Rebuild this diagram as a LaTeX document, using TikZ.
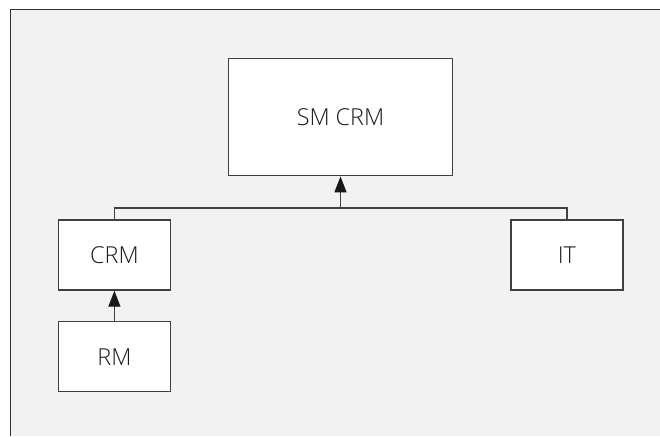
\documentclass[tikz,border=0pt]{standalone}
\usepackage{fontspec}
\setmainfont{Open Sans}[UprightFont=* Light]
\usetikzlibrary{arrows.meta}
\begin{document}
\begin{tikzpicture}[x=0.75pt,y=-0.75pt,
  box/.style={draw=black!75,line width=1.1pt,fill=white,inner sep=0pt,font=\fontsize{17.5}{20}\selectfont,text=black!90},
  conn/.style={draw=black!75,line width=1.1pt},
  arr/.style={conn,-{Triangle[length=12pt,width=9pt,fill=black!90,color=black!90]}}]
\useasboundingbox (0,0) rectangle (660,436);
\fill[white] (0,0) rectangle (660,436);
\fill[black!5] (10.5,9.5) rectangle (660,436);
\draw[black!80,line width=1.2pt] (10.5,436) -- (10.5,9.5) -- (660,9.5);
\node[box,minimum width=168pt,minimum height=88pt] (sm) at (340.5,117) {SM CRM};
\node[box,minimum width=84pt,minimum height=52.5pt] (crm) at (114.4,255) {CRM};
\node[box,minimum width=84pt,minimum height=52.5pt] (rm) at (114.4,356.7) {RM};
\node[box,minimum width=84pt,minimum height=52.5pt] (it) at (566.9,255) {IT};
\coordinate (j) at (340.5,208);
\draw[conn] (crm.north) |- (j) -| (it.north);
\draw[arr] (j) -- (sm.south);
\draw[arr] (rm.north) -- (crm.south);
\end{tikzpicture}
\end{document}
